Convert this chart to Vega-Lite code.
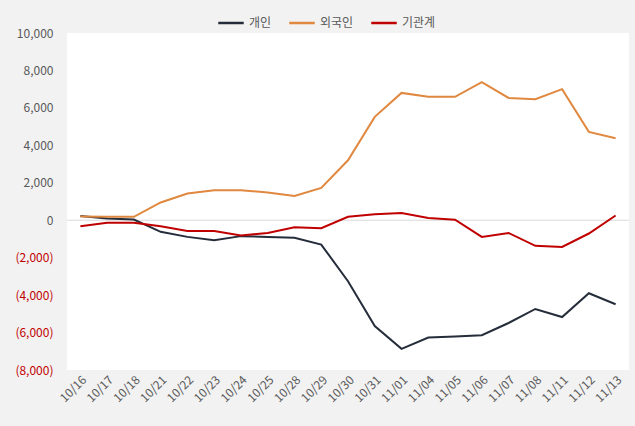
{
  "$schema": "https://vega.github.io/schema/vega-lite/v6.json",
  "autosize": {"type": "none"},
  "width": 562,
  "height": 337,
  "padding": {"left": 67, "top": 33, "right": 6, "bottom": 56},
  "background": "#f2f2f2",
  "view": {"fill": "#ffffff", "stroke": null},
  "config": {
    "font": "Noto Sans CJK KR",
    "axis": {"labelColor": "#595959", "labelFontSize": 12, "domain": false, "ticks": false, "grid": false, "title": null}
  },
  "datasets": {
    "rows": [
      {"date": "10/16", "s": "개인", "v": 230}, {"date": "10/17", "s": "개인", "v": 90}, {"date": "10/18", "s": "개인", "v": 40},
      {"date": "10/21", "s": "개인", "v": -620}, {"date": "10/22", "s": "개인", "v": -890}, {"date": "10/23", "s": "개인", "v": -1070},
      {"date": "10/24", "s": "개인", "v": -850}, {"date": "10/25", "s": "개인", "v": -890}, {"date": "10/28", "s": "개인", "v": -940},
      {"date": "10/29", "s": "개인", "v": -1300}, {"date": "10/30", "s": "개인", "v": -3260}, {"date": "10/31", "s": "개인", "v": -5650},
      {"date": "11/01", "s": "개인", "v": -6870}, {"date": "11/04", "s": "개인", "v": -6270}, {"date": "11/05", "s": "개인", "v": -6210},
      {"date": "11/06", "s": "개인", "v": -6140}, {"date": "11/07", "s": "개인", "v": -5490}, {"date": "11/08", "s": "개인", "v": -4740},
      {"date": "11/11", "s": "개인", "v": -5170}, {"date": "11/12", "s": "개인", "v": -3900}, {"date": "11/13", "s": "개인", "v": -4490},
      {"date": "10/16", "s": "외국인", "v": 200}, {"date": "10/17", "s": "외국인", "v": 180}, {"date": "10/18", "s": "외국인", "v": 180},
      {"date": "10/21", "s": "외국인", "v": 950}, {"date": "10/22", "s": "외국인", "v": 1430}, {"date": "10/23", "s": "외국인", "v": 1600},
      {"date": "10/24", "s": "외국인", "v": 1600}, {"date": "10/25", "s": "외국인", "v": 1480}, {"date": "10/28", "s": "외국인", "v": 1300},
      {"date": "10/29", "s": "외국인", "v": 1730}, {"date": "10/30", "s": "외국인", "v": 3200}, {"date": "10/31", "s": "외국인", "v": 5520},
      {"date": "11/01", "s": "외국인", "v": 6800}, {"date": "11/04", "s": "외국인", "v": 6590}, {"date": "11/05", "s": "외국인", "v": 6590},
      {"date": "11/06", "s": "외국인", "v": 7370}, {"date": "11/07", "s": "외국인", "v": 6530}, {"date": "11/08", "s": "외국인", "v": 6460},
      {"date": "11/11", "s": "외국인", "v": 7000}, {"date": "11/12", "s": "외국인", "v": 4720}, {"date": "11/13", "s": "외국인", "v": 4380},
      {"date": "10/16", "s": "기관계", "v": -320}, {"date": "10/17", "s": "기관계", "v": -140}, {"date": "10/18", "s": "기관계", "v": -140},
      {"date": "10/21", "s": "기관계", "v": -320}, {"date": "10/22", "s": "기관계", "v": -570}, {"date": "10/23", "s": "기관계", "v": -570},
      {"date": "10/24", "s": "기관계", "v": -820}, {"date": "10/25", "s": "기관계", "v": -680}, {"date": "10/28", "s": "기관계", "v": -370},
      {"date": "10/29", "s": "기관계", "v": -430}, {"date": "10/30", "s": "기관계", "v": 180}, {"date": "10/31", "s": "기관계", "v": 320},
      {"date": "11/01", "s": "기관계", "v": 390}, {"date": "11/04", "s": "기관계", "v": 120}, {"date": "11/05", "s": "기관계", "v": 30},
      {"date": "11/06", "s": "기관계", "v": -890}, {"date": "11/07", "s": "기관계", "v": -680}, {"date": "11/08", "s": "기관계", "v": -1370},
      {"date": "11/11", "s": "기관계", "v": -1430}, {"date": "11/12", "s": "기관계", "v": -710}, {"date": "11/13", "s": "기관계", "v": 250}
    ]
  },
  "layer": [
    {
      "data": {"values": [{"v": 0}]},
      "mark": {"type": "rule", "color": "#d9d9d9", "strokeWidth": 1},
      "encoding": {"y": {"field": "v", "type": "quantitative",
          "scale": {"domain": [-8000, 10000], "nice": false},
          "axis": {"values": [-8000, -6000, -4000, -2000, 0, 2000, 4000, 6000, 8000, 10000], "labelPadding": 14,
            "labelExpr": "datum.value < 0 ? '(' + format(-datum.value, ',') + ')' : format(datum.value, ',')",
            "labelColor": {"condition": {"test": "datum.value < 0", "value": "#c00000"}, "value": "#595959"}}}}
    },
    {
      "data": {"name": "rows"},
      "mark": {"type": "line", "strokeWidth": 2},
      "encoding": {
        "x": {"field": "date", "type": "ordinal", "sort": null, "scale": {"type": "point", "padding": 0.5},
          "axis": {"labelAngle": -45, "labelFontSize": 12, "labelPadding": 4}},
        "y": {"field": "v", "type": "quantitative",
          "scale": {"domain": [-8000, 10000], "nice": false},
          "axis": {"values": [-8000, -6000, -4000, -2000, 0, 2000, 4000, 6000, 8000, 10000], "labelPadding": 14,
            "labelExpr": "datum.value < 0 ? '(' + format(-datum.value, ',') + ')' : format(datum.value, ',')",
            "labelColor": {"condition": {"test": "datum.value < 0", "value": "#c00000"}, "value": "#595959"}}},
        "color": {"field": "s", "type": "nominal",
          "scale": {"domain": ["개인", "외국인", "기관계"], "range": ["#252d3b", "#e0883f", "#c00000"]},
          "legend": {"orient": "none", "direction": "horizontal", "legendX": 150, "legendY": -24, "title": null,
            "symbolType": "stroke", "symbolSize": 650, "symbolStrokeWidth": 2.5, "labelFontSize": 12, "labelColor": "#595959",
            "columnPadding": 12, "labelOffset": 4}}
      }
    }
  ]
}
